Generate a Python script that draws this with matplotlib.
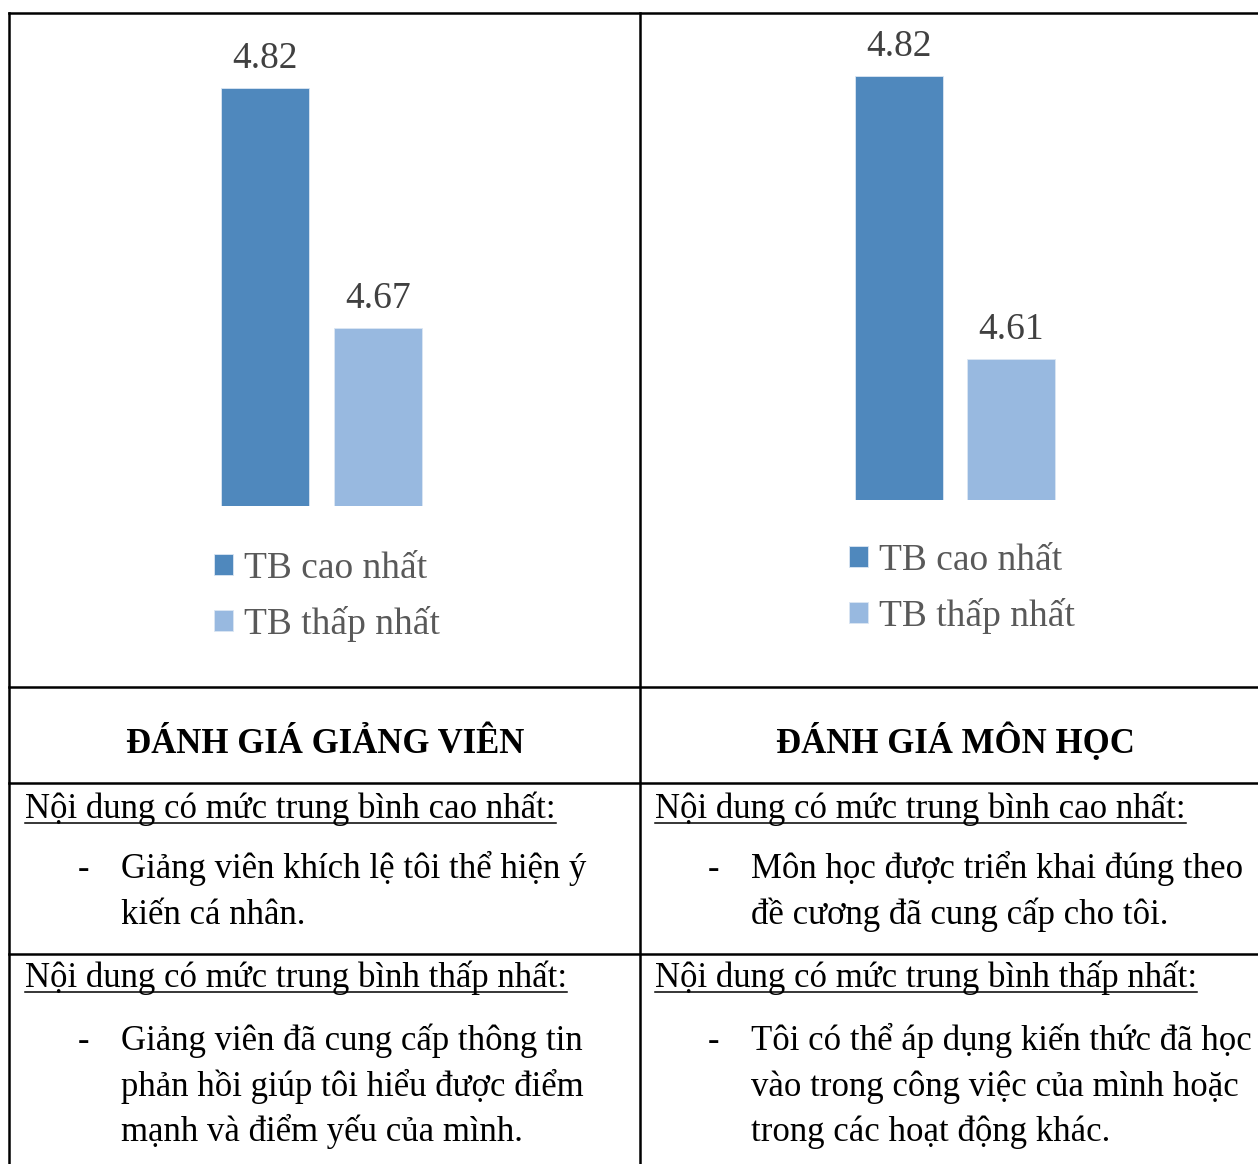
import matplotlib.pyplot as plt
from matplotlib.lines import Line2D

plt.rcParams['font.family'] = ['Liberation Serif', 'DejaVu Serif']

# mean scores
series = ['TB cao nhất', 'TB thấp nhất']
giang_vien = [4.82, 4.67]
mon_hoc = [4.82, 4.61]
colors = ['#4F88BD', '#98B9E0']

headers = ['ĐÁNH GIÁ GIẢNG VIÊN', 'ĐÁNH GIÁ MÔN HỌC']
top_title = 'Nội dung có mức trung bình cao nhất:'
low_title = 'Nội dung có mức trung bình thấp nhất:'
gv_top = ['Giảng viên khích lệ tôi thể hiện ý', 'kiến cá nhân.']
gv_low = ['Giảng viên đã cung cấp thông tin',
          'phản hồi giúp tôi hiểu được điểm',
          'mạnh và điểm yếu của mình.']
mh_top = ['Môn học được triển khai đúng theo', 'đề cương đã cung cấp cho tôi.']
mh_low = ['Tôi có thể áp dụng kiến thức đã học',
          'vào trong công việc của mình hoặc',
          'trong các hoạt động khác.']

W, H = 1258, 1164
fig = plt.figure(figsize=(W / 100, H / 100), dpi=100)


def fx(x):
    return x / W


def fy(y):
    return 1 - y / H


def bar_panel(vals, left, right, bottom, xlim, ylim, width, leg_xy):
    ax = fig.add_axes([fx(left), fy(bottom), fx(right - left), (bottom - 13) / H])
    bars = ax.bar(range(len(vals)), vals, width=width, color=colors,
                  edgecolor='#dbe6f3', linewidth=0.6)
    for i, v in enumerate(vals):
        ax.annotate(f'{v:.2f}', (i, v), xytext=(0, 14.5), textcoords='offset points',
                    ha='center', va='baseline', fontsize=27, color='#404040')
    ax.set_xlim(*xlim)
    ax.set_ylim(*ylim)
    ax.axis('off')
    ax.legend(list(bars), series, loc='upper left',
              bbox_to_anchor=(fx(leg_xy[0]), fy(leg_xy[1])),
              bbox_transform=fig.transFigure, frameon=False,
              borderpad=0, borderaxespad=0, handlelength=0.5, handleheight=0.5,
              handletextpad=0.3, labelspacing=0.54, fontsize=27,
              labelcolor='#595959')
    return ax


bar_panel(giang_vien, 9, 640, 506, (-2.265, 3.319), (4.5588, 4.867), 0.78, (214, 551))
bar_panel(mon_hoc, 640, 1258, 500, (-2.3125, 3.205), (4.5053, 4.867), 0.786, (849, 543))

# table grid
lw = 1.8
for y in [13, 687, 783, 954]:
    fig.add_artist(Line2D([fx(9), 1], [fy(y), fy(y)], color='black', lw=lw))
for x in [9, 640]:
    fig.add_artist(Line2D([fx(x), fx(x)], [fy(13), 0], color='black', lw=lw))

# header row
fig.text(fx(325), fy(753), headers[0], ha='center', va='baseline',
         fontsize=25, fontweight='bold')
fig.text(fx(955), fy(753), headers[1], ha='center', va='baseline',
         fontsize=25, fontweight='bold')

titles = []


def cell(x0, title, lines, y_title, y_first):
    t = fig.text(fx(x0), fy(y_title), title, ha='left', va='baseline', fontsize=25)
    titles.append((t, y_title))
    fig.text(fx(x0 + 53), fy(y_first), '-', ha='left', va='baseline', fontsize=25)
    for k, line in enumerate(lines):
        fig.text(fx(x0 + 96), fy(y_first + 45.5 * k), line, ha='left',
                 va='baseline', fontsize=25)


cell(25, top_title, gv_top, 818, 878)
cell(655, top_title, mh_top, 818, 878)
cell(25, low_title, gv_low, 987, 1050)
cell(655, low_title, mh_low, 987, 1050)

# underline the cell titles
renderer = fig.canvas.get_renderer()
for t, yb in titles:
    bb = t.get_window_extent(renderer)
    fig.add_artist(Line2D([bb.x0 / W, bb.x1 / W], [fy(yb + 5), fy(yb + 5)],
                          color='black', lw=1.1))

fig.savefig('out.png', dpi=100)
